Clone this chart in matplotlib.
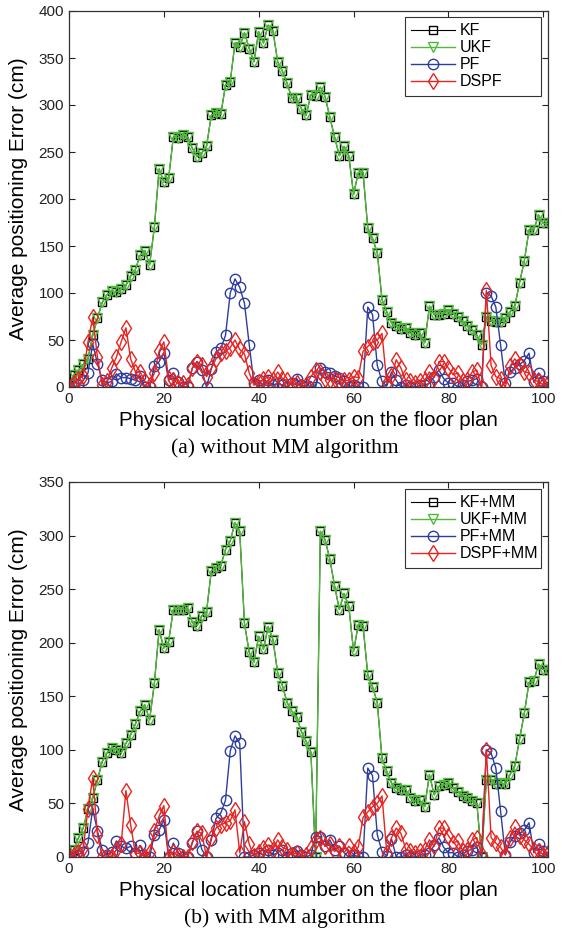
import matplotlib
matplotlib.use("Agg")
import matplotlib.pyplot as plt
import numpy as np

plt.rcParams["font.family"] = ["Liberation Sans", "DejaVu Sans"]

# location numbers on the floor plan
locations = np.arange(0, 102)

# (a) without MM algorithm
a_ukf = [2, 13, 18, 24, 30, 55, 73, 90, 98, 102, 101, 104, 108, 118, 125, 140, 145, 130, 170, 232,
         218, 222, 266, 265, 268, 266, 254, 245, 249, 256, 289, 291, 290, 321, 325, 366, 362, 377, 360, 346,
         378, 366, 385, 379, 346, 336, 323, 307, 307, 296, 289, 311, 310, 319, 309, 287, 266, 246, 256, 246,
         205, 228, 228, 169, 158, 143, 93, 80, 68, 65, 62, 63, 57, 55, 57, 47, 86, 77, 77, 78,
         82, 78, 75, 70, 65, 61, 55, 45, 75, 70, 69, 69, 73, 80, 86, 111, 134, 167, 167, 183,
         174, 174]
a_kf = [2, 13, 18, 24, 30, 55, 73, 90, 98, 102, 101, 104, 108, 118, 125, 140, 145, 130, 170, 232,
        218, 222, 266, 265, 268, 266, 254, 245, 249, 256, 289, 291, 290, 321, 325, 366, 362, 377, 360, 346,
        378, 366, 385, 379, 346, 336, 323, 307, 307, 296, 289, 311, 310, 319, 309, 287, 266, 246, 256, 246,
        205, 228, 228, 169, 158, 143, 93, 80, 68, 65, 62, 63, 57, 55, 57, 47, 86, 77, 77, 78,
        82, 78, 75, 70, 65, 61, 55, 45, 75, 70, 69, 69, 73, 80, 86, 111, 134, 167, 167, 183,
        174, 174]
a_pf = [0, 0, 2, 7, 15, 46, 25, 7, 4, 6, 14, 10, 10, 9, 7, 12, 0, 0, 22, 27,
        36, 7, 15, 5, 0, 0, 20, 27, 18, 0, 19, 37, 41, 55, 100, 115, 106, 89, 45, 4,
        7, 2, 7, 2, 4, 2, 0, 4, 9, 2, 0, 6, 0, 20, 16, 15, 12, 10, 6, 0,
        2, 0, 0, 85, 77, 23, 6, 1, 16, 7, 0, 2, 0, 0, 2, 2, 4, 11, 18, 9,
        4, 4, 0, 2, 6, 7, 9, 0, 100, 97, 85, 45, 4, 16, 20, 24, 28, 36, 5, 15,
        6, 0]
a_dspf = [0, 4, 8, 12, 48, 74, 32, 2, 6, 20, 32, 48, 63, 30, 16, 16, 6, 2, 15, 38,
          48, 9, 7, 4, 4, 2, 20, 27, 23, 11, 20, 30, 36, 38, 42, 50, 40, 35, 15, 2,
          5, 8, 11, 7, 16, 9, 7, 2, 4, 0, 2, 11, 18, 16, 9, 7, 9, 6, 7, 7,
          11, 10, 38, 43, 48, 50, 57, 4, 12, 29, 20, 7, 6, 4, 6, 7, 16, 10, 27, 27,
          20, 13, 15, 6, 7, 16, 18, 0, 103, 23, 11, 9, 0, 22, 30, 23, 16, 15, 7, 6,
          2, 4]

# (b) with MM algorithm
b_ukf = [0, 7, 18, 27, 45, 55, 72, 89, 97, 102, 100, 97, 106, 114, 124, 136, 142, 128, 162, 212,
         195, 201, 231, 231, 231, 232, 219, 216, 225, 229, 267, 270, 272, 287, 295, 312, 304, 218, 191, 182,
         206, 194, 215, 203, 172, 160, 144, 136, 131, 117, 108, 98, 0, 304, 296, 278, 253, 231, 246, 234,
         192, 217, 216, 170, 159, 144, 92, 80, 69, 64, 63, 63, 55, 52, 53, 47, 77, 58, 66, 67,
         69, 64, 61, 57, 55, 52, 50, 0, 72, 72, 68, 69, 68, 77, 85, 110, 134, 163, 164, 180,
         175, 175]
b_kf = [0, 7, 18, 27, 45, 55, 72, 89, 97, 102, 100, 97, 106, 114, 124, 136, 142, 128, 162, 212,
        195, 201, 231, 231, 231, 232, 219, 216, 225, 229, 267, 270, 272, 287, 295, 312, 304, 218, 191, 182,
        206, 194, 215, 203, 172, 160, 144, 136, 131, 117, 108, 98, 0, 304, 296, 278, 253, 231, 246, 234,
        192, 217, 216, 170, 159, 144, 92, 80, 69, 64, 63, 63, 55, 52, 53, 47, 77, 58, 66, 67,
        69, 64, 61, 57, 55, 52, 50, 0, 72, 72, 68, 69, 68, 77, 85, 110, 134, 163, 164, 180,
        175, 175]
b_pf = [0, 0, 2, 5, 13, 45, 24, 7, 2, 5, 15, 10, 8, 10, 4, 11, 0, 0, 21, 25,
        35, 0, 13, 4, 0, 0, 13, 24, 7, 0, 16, 36, 41, 53, 99, 113, 106, 0, 0, 2,
        4, 2, 7, 2, 4, 7, 0, 4, 6, 2, 0, 2, 19, 19, 10, 16, 7, 10, 4, 0,
        2, 0, 0, 83, 76, 21, 5, 1, 17, 0, 0, 2, 0, 0, 2, 2, 4, 11, 18, 9,
        4, 4, 0, 2, 6, 7, 9, 0, 100, 97, 83, 43, 2, 14, 20, 22, 25, 32, 4, 12,
        6, 0]
b_dspf = [0, 2, 5, 8, 45, 74, 21, 0, 0, 0, 7, 12, 62, 30, 3, 4, 0, 5, 24, 38,
          48, 0, 5, 1, 0, 0, 14, 24, 22, 0, 18, 27, 30, 32, 34, 44, 4, 33, 12, 1,
          5, 8, 11, 7, 16, 9, 7, 2, 4, 0, 2, 8, 16, 18, 10, 12, 5, 10, 4, 10,
          5, 9, 37, 42, 47, 50, 57, 4, 18, 27, 22, 7, 6, 4, 6, 7, 16, 10, 27, 27,
          20, 13, 15, 6, 7, 16, 18, 2, 100, 18, 13, 9, 2, 18, 28, 20, 16, 12, 7, 6,
          2, 4]

KF_COLOR = "black"
UKF_COLOR = "#4fba3a"
PF_COLOR = "#2c3d9e"
DSPF_COLOR = "#e8231f"


def draw_panel(ax, kf, ukf, pf, dspf, labels, y_max, leg_top):
    ax.plot(locations, kf, color=KF_COLOR, lw=0.8, marker="s", ms=5.5, mfc="none", mew=1.0, label=labels[0])
    ax.plot(locations, ukf, color=UKF_COLOR, lw=1.0, marker="v", ms=7, mfc="none", mew=1.0, label=labels[1])
    ax.plot(locations, pf, color=PF_COLOR, lw=1.0, marker="o", ms=7.5, mfc="none", mew=1.0, label=labels[2])
    ax.plot(locations, dspf, color=DSPF_COLOR, lw=1.0, marker="d", ms=8, mfc="none", mew=1.0, label=labels[3])
    ax.set_xlim(0, 101)
    ax.set_ylim(0, y_max)
    ax.set_xticks(range(0, 101, 20))
    ax.set_yticks(range(0, y_max + 1, 50))
    ax.tick_params(direction="in", top=True, right=True, labelsize=11, length=4, width=0.8, colors="#222222")
    for spine in ax.spines.values():
        spine.set_linewidth(0.9)
        spine.set_color("#333333")
    # MATLAB-style legend box: wide, with empty room on the right
    leg = ax.legend(loc="upper left", mode="expand", fontsize=11.5, fancybox=False, framealpha=1,
                    edgecolor="#333333", handlelength=2.7, labelspacing=0.12, borderpad=0.4,
                    handletextpad=0.35, borderaxespad=0,
                    bbox_to_anchor=(336 / 479, 0.0, 136 / 479, leg_top))
    leg.get_frame().set_linewidth(0.8)


fig = plt.figure(figsize=(5.62, 9.32), dpi=100)
ax_a = fig.add_axes([69 / 562, 1 - 387 / 932, 479 / 562, 376 / 932])
ax_b = fig.add_axes([69 / 562, 1 - 857 / 932, 479 / 562, 375 / 932])

draw_panel(ax_a, a_kf, a_ukf, a_pf, a_dspf, ["KF", "UKF", "PF", "DSPF"], 400, (387 - 17) / 376)
draw_panel(ax_b, b_kf, b_ukf, b_pf, b_dspf, ["KF+MM", "UKF+MM", "PF+MM", "DSPF+MM"], 350, (857 - 489) / 375)

x_mid = (69 + 548) / 2 / 562
for ax_top, ax_bot, cap in [(11, 387, "(a) without MM algorithm"), (483, 857, "(b) with MM algorithm")]:
    fig.text(x_mid, 1 - (ax_bot + 33) / 932, "Physical location number on the floor plan",
             ha="center", va="center", fontsize=14.7)
    fig.text(285 / 562, 1 - (ax_bot + 61) / 932, cap, ha="center", va="center", fontsize=15.5,
             family="Liberation Serif")
    fig.text(19 / 562, 1 - (ax_top + ax_bot) / 2 / 932, "Average positioning Error (cm)",
             ha="center", va="center", rotation=90, fontsize=15)

fig.savefig("out.png", dpi=100)
